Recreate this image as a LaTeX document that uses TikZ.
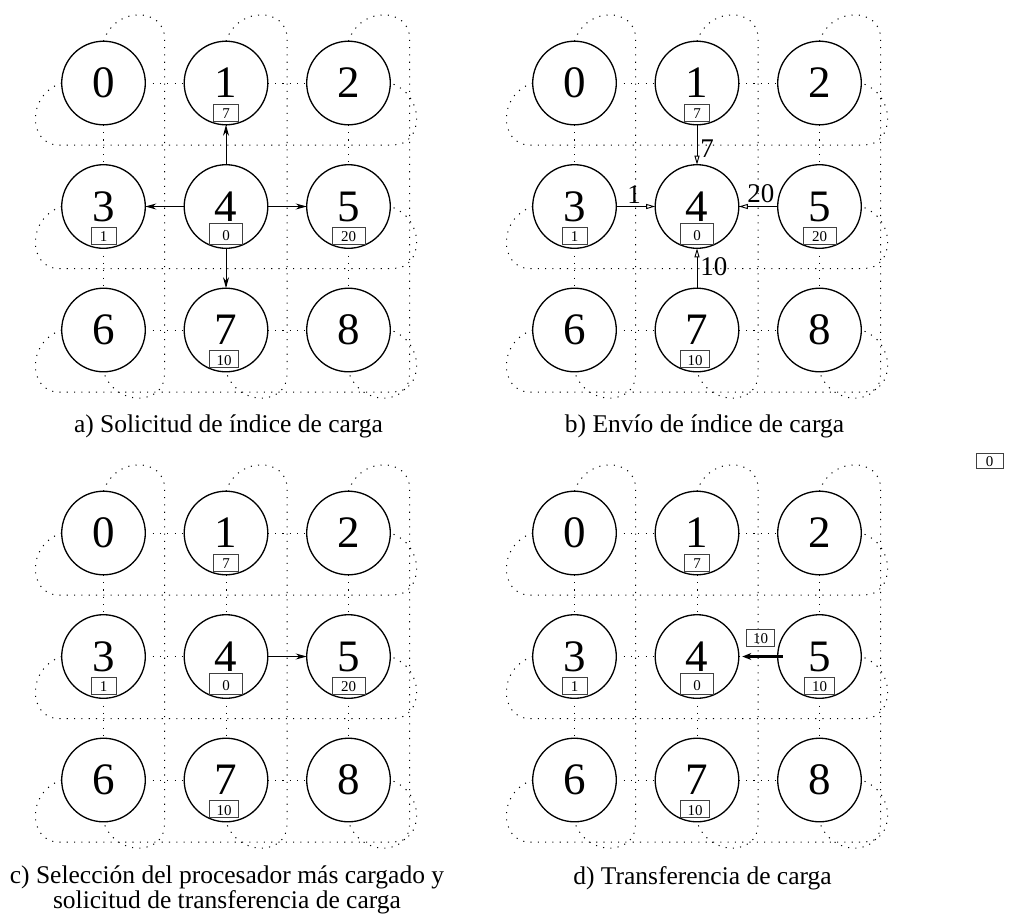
\documentclass[tikz,border=0pt]{standalone}
\usepackage{fontspec}
\setmainfont{Liberation Serif}
\usetikzlibrary{calc,arrows.meta}
\tikzset{
 proc/.style={circle, draw, line width=1.3pt, minimum size=83.6pt, inner sep=0pt, outer sep=0pt, font=\fontsize{45}{45}\selectfont},
 lbox/.style={rectangle, draw=black!75, line width=0.9pt, inner sep=0pt, minimum height=17pt, text height=12pt, text depth=0pt, font=\fontsize{15}{15}\selectfont},
 mesh/.style={line width=1pt, dash pattern=on 1.1pt off 6.2pt},
 req/.style={line width=0.9pt, -{Stealth[length=11pt,width=6pt]}},
 send/.style={line width=0.9pt, -{Triangle[open,length=9pt,width=5pt,fill=white]}},
 elab/.style={font=\fontsize{27}{27}\selectfont, inner sep=3pt},
 move/.style={line width=2.2pt, -{Stealth[length=9pt,width=7pt]}},
 capt/.style={font=\fontsize{25.5}{25}\selectfont, inner sep=0pt, align=center},
}
\newcommand\torus[5]{% prefix, dx, dy, load of 5, width of 5's box
\begin{scope}[shift={(#2,#3)}]
\foreach \nk/\nc/\nr in {0/0/0,1/1/0,2/2/0,3/0/1,4/1/1,5/2/1,6/0/2,7/1/2,8/2/2}
  \node[proc] (#1\nk) at ({103.5+122.5*\nc},{83+123.5*\nr}) {\nk};
\end{scope}
\foreach \u/\v in {0/1,1/2,3/4,4/5,6/7,7/8} \draw[mesh] (#1\u.east) -- (#1\v.west);
\foreach \u/\v in {0/3,3/6,1/4,4/7,2/5,5/8} \draw[mesh] (#1\u.south) -- (#1\v.north);
\foreach \u/\v in {0/2,3/5,6/8}
 \draw[mesh] (#1\u.west) .. controls +(-36,12) and +(-30,0) .. ($(#1\u)+(-45,62)$) -- ($(#1\v)+(45,62)$) .. controls +(30,0) and +(36,12) .. (#1\v.east);
\foreach \u/\v in {0/6,1/7,2/8}
 \draw[mesh] (#1\u.north) .. controls +(12,-36) and +(0,-30) .. ($(#1\u)+(61,-45)$) -- ($(#1\v)+(61,45)$) .. controls +(0,30) and +(12,36) .. (#1\v.south);
\node[lbox, minimum width=25pt] (#1l1) at ($(#11)+(0,29.5)$) {7};
\node[lbox, minimum width=25pt] (#1l3) at ($(#13)+(0,29)$) {1};
\node[lbox, minimum width=33pt, minimum height=21pt] (#1l4) at ($(#14)+(0,27.5)$) {0};
\node[lbox, minimum width=#5] (#1l5) at ($(#15)+(0,29)$) {#4};
\node[lbox, minimum width=29pt] (#1l7) at ($(#17)+(-2,29)$) {10};
}
\begin{document}
\begin{tikzpicture}[x=1pt,y=-1pt]
\useasboundingbox (0,0) rectangle (1009,919);
% a)
\torus{a}{0}{0}{20}{33pt}
\draw[req] (a4.north) -- (a1.south);
\draw[req] (a4.west) -- (a3.east);
\draw[req] (a4.east) -- (a5.west);
\draw[req] (a4.south) -- (a7.north);
\node[capt, anchor=base] (capa) at (228.5,432) {a) Solicitud de índice de carga};
% b)
\torus{b}{471}{0}{20}{33pt}
\draw[send] (b1.south) -- node[elab, pos=0.59, anchor=west]{7} (b4.north);
\draw[send] (b3.east) -- node[elab, pos=0.46, anchor=south]{1} (b4.west);
\draw[send] (b5.west) -- node[elab, pos=0.43, anchor=south]{20} (b4.east);
\draw[send] (b7.north) -- node[elab, pos=0.53, anchor=west]{10} (b4.south);
\node[capt, anchor=base] (capb) at (704.5,432) {b) Envío de índice de carga};
% c)
\torus{c}{0}{450}{20}{33pt}
\draw[req] (c4.east) -- (c5.west);
\node[capt, anchor=north] (capc) at (227,866) {c) Selección del procesador más cargado y\\solicitud de transferencia de carga};
% d)
\torus{d}{471}{450}{10}{30pt}
\draw[move, shorten <=-5pt, shorten >=3.5pt] (d5.west) -- (d4.east);
\node[lbox, minimum width=28pt] (dmsg) at ($(d4)+(63.5,-19)$) {10};
\node[capt, anchor=base] (capd) at (702.5,884) {d) Transferencia de carga};
% extra box
\node[lbox, minimum width=27pt, minimum height=15pt] (extra) at (989.5,460.5) {0};
\end{tikzpicture}
\end{document}
